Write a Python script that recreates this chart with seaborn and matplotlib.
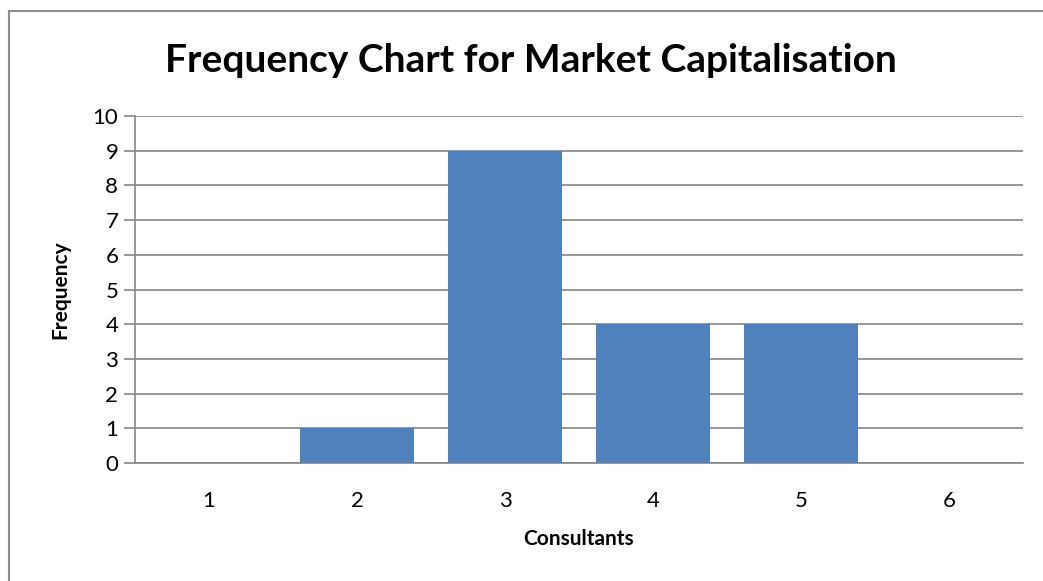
import matplotlib
matplotlib.use('Agg')
import matplotlib.pyplot as plt
import seaborn as sn
import pandas as pd
from matplotlib.patches import Rectangle

# data
categories = ['1', '2', '3', '4', '5', '6']
frequency = [0, 1, 9, 4, 4, 0]
y_ticks = list(range(0, 11))

df = pd.DataFrame({'Consultants': categories, 'Frequency': frequency})

sn.set_style('white')
plt.rcParams['font.family'] = ['Lato', 'DejaVu Sans']
plt.rcParams['text.color'] = 'black'
plt.rcParams['xtick.color'] = 'black'
plt.rcParams['ytick.color'] = 'black'
plt.rcParams['axes.labelcolor'] = 'black'

fig = plt.figure(figsize=(10.43, 5.81), dpi=100)
ax = fig.add_axes([135/1043, 1 - 463/581, (1023 - 135)/1043, (463 - 116)/581])

sn.barplot(data=df, x='Consultants', y='Frequency', color='#4F81BD',
           saturation=1, width=0.765, ax=ax, zorder=3,
           edgecolor='none', linewidth=0)

grid_c = '#868686'
ax.set_ylim(0, 10)
ax.set_xlim(-0.5, 5.5)
ax.set_yticks(y_ticks)
ax.yaxis.grid(True, color=grid_c, linewidth=1.2, zorder=0)
ax.set_axisbelow(True)

for s in ['top', 'right']:
    ax.spines[s].set_visible(False)
for s in ['left', 'bottom']:
    ax.spines[s].set_color(grid_c)
    ax.spines[s].set_linewidth(1.2)

# ticks at category boundaries
ax.set_xticks([i - 0.5 for i in range(7)], minor=True)
ax.tick_params(axis='x', which='major', length=0, pad=20, labelsize=16)
ax.tick_params(axis='x', which='minor', length=8, width=1.2, color=grid_c, direction='out')
ax.tick_params(axis='y', length=8, width=1.2, color=grid_c, labelcolor='black',
               direction='out', pad=4, labelsize=16, left=True)

ax.set_xlabel('Consultants', fontsize=15, fontweight='bold', labelpad=13)
ax.set_ylabel('Frequency', fontsize=15, fontweight='bold', labelpad=16)

fig.text(531/1043, 1 - 60/581, 'Frequency Chart for Market Capitalisation',
         ha='center', va='center', fontsize=28, fontweight='bold')

# chart area border
fig.patches.append(Rectangle((9/1043, -0.1), 1.2, 1 - 11/581 + 0.1,
                             transform=fig.transFigure, fill=False,
                             edgecolor='#8C8C8C', linewidth=1.5))

fig.savefig('out.png', dpi=100)
